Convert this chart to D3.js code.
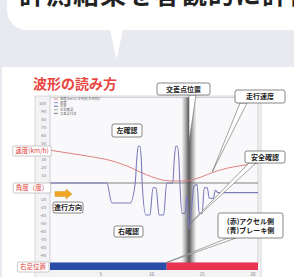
<!DOCTYPE html>
<html>
<head>
<meta charset="utf-8">
<script src="https://cdn.jsdelivr.net/npm/d3@7"></script>
<style>
  html, body { margin: 0; padding: 0; background: #e9eaef; }
  svg { display: block; font-family: "Noto Sans CJK JP", "Noto Sans", sans-serif; }
</style>
</head>
<body>
<script>
// speed (km/h) over time (s)
const speedTime  = [0, 2, 4, 6, 8, 9, 10, 11, 12, 13, 14, 15, 16, 17, 18, 19, 20, 20.5];
const speedValue = [41, 37, 33, 28, 19, 13, 8, 4, 2.5, 2.5, 4, 8, 13, 17, 20, 22, 24, 25];

// angle (deg) over time (s)
const angleTime  = [0, 5.6, 6.1, 7.9, 8.4, 8.55, 8.7, 8.85, 9.0, 9.08, 9.45, 9.85, 10.15, 10.45, 10.75, 11.2, 11.5,
                    12.1, 12.25, 12.4, 12.55, 12.7, 12.8, 13.0, 13.3, 13.5, 13.7, 13.9, 14.2, 14.5, 14.7, 15.0, 15.2,
                    15.5, 15.7, 16.1, 16.3, 16.55, 20.5];
const angleValue = [0, 0, -25, -25, 0, 30, 46, 46, 30, 0, -40, -40, -6, -6, -40, -40, 0,
                    0, 30, 46, 46, 30, 0, -38, -38, -15, -58, -38, -4, -2, -38, -38, -6,
                    -6, -19, -19, -9, -12, -12];

// right foot position: brake (blue) then accelerator (red)
const footStart = [0, 11.5];
const footEnd   = [11.5, 20.5];
const footSide  = ["brake", "accel"];

const intersectionTime = 13.7;

const yTicks = d3.range(100, -101, -10);
const xTicks = [5, 10, 15, 20];

const legendRows = ["速度(km/h)   左判別   左判別2", "角度", "右足", "左右確認", "交差点付近"];
const legendColors = ["#d96a6a", "#7474b8", "#2b4ea6", "#999", "#666"];

const W = 294, H = 277;
const svg = d3.select("body").append("svg").attr("width", W).attr("height", H);

// speech bubble at the top
svg.append("rect").attr("x", 7).attr("y", -40).attr("width", 320).attr("height", 70)
    .attr("rx", 20).attr("fill", "#fff");
svg.append("path").attr("d", "M110,29 L123,29 L116.5,60 Z").attr("fill", "#fff");
svg.append("text").attr("x", 19).attr("y", 4)
    .attr("font-size", 26).attr("font-weight", "bold").attr("fill", "#222")
    .attr("letter-spacing", 1)
    .text("計測結果を客観的に評価");

// white panel
svg.append("rect").attr("x", 2).attr("y", 67).attr("width", 300).attr("height", 220).attr("fill", "#fff");

svg.append("text").attr("x", 33).attr("y", 89)
    .attr("font-size", 14).attr("font-weight", "bold").attr("fill", "#e8453f")
    .text("波形の読み方");

const x = d3.scaleLinear().domain([0, 20.5]).range([50, 258]);
const y = d3.scaleLinear().domain([-100, 100]).range([263, 103]);

// chart frame
svg.append("rect").attr("x", 35).attr("y", 96).attr("width", 226).attr("height", 200)
    .attr("fill", "#f3f3f5").attr("stroke", "#d0d0d4").attr("stroke-width", 0.8);
svg.append("rect").attr("x", x(0)).attr("y", y(107)).attr("width", x(20.5) - x(0)).attr("height", y(-100) - y(107))
    .attr("fill", "#f9f9fb").attr("stroke", "#b8b8bc").attr("stroke-width", 0.6);

// y tick labels (the ones hidden behind the side labels are skipped)
const hidden = [40, 0, -10, -100];
svg.append("g").selectAll("text").data(yTicks.filter(d => !hidden.includes(d))).join("text")
    .attr("x", 46).attr("y", d => y(d) + 1.5)
    .attr("text-anchor", "end").attr("font-size", 4.2).attr("fill", "#777")
    .text(d => d);

svg.append("g").selectAll("text").data(xTicks).join("text")
    .attr("x", d => x(d)).attr("y", 276)
    .attr("text-anchor", "middle").attr("font-size", 4.5).attr("fill", "#777")
    .text(d => d);

// zero line
svg.append("line").attr("x1", x(0)).attr("x2", x(20.5)).attr("y1", y(0)).attr("y2", y(0))
    .attr("stroke", "#666").attr("stroke-width", 0.8);

// intersection band
const grad = svg.append("defs").append("linearGradient").attr("id", "band");
grad.append("stop").attr("offset", "0%").attr("stop-color", "#888").attr("stop-opacity", 0.1);
grad.append("stop").attr("offset", "45%").attr("stop-color", "#555").attr("stop-opacity", 0.9);
grad.append("stop").attr("offset", "55%").attr("stop-color", "#555").attr("stop-opacity", 0.9);
grad.append("stop").attr("offset", "100%").attr("stop-color", "#888").attr("stop-opacity", 0.1);
svg.append("rect").attr("x", x(intersectionTime) - 7).attr("y", y(107)).attr("width", 14)
    .attr("height", y(-100) - y(107)).attr("fill", "url(#band)");

const speed = speedTime.map((t, i) => [t, speedValue[i]]);
svg.append("path").datum(speed)
    .attr("d", d3.line().x(d => x(d[0])).y(d => y(d[1])).curve(d3.curveMonotoneX))
    .attr("fill", "none").attr("stroke", "#df7070").attr("stroke-width", 0.9);

const angle = angleTime.map((t, i) => [t, angleValue[i]]);
svg.append("path").datum(angle)
    .attr("d", d3.line().x(d => x(d[0])).y(d => y(d[1])).curve(d3.curveMonotoneX))
    .attr("fill", "none").attr("stroke", "#7c7cbc").attr("stroke-width", 1.1);

// foot position bar
svg.append("g").selectAll("rect").data(footStart).join("rect")
    .attr("x", d => x(d)).attr("y", 262.5)
    .attr("width", (d, i) => x(footEnd[i]) - x(d)).attr("height", 7.5)
    .attr("fill", (d, i) => footSide[i] === "brake" ? "#2a4ea8" : "#ea3350");

// legend
const lg = svg.append("g").selectAll("g").data(legendRows).join("g")
    .attr("transform", (d, i) => `translate(54,${99 + i * 3.6})`);
lg.append("line").attr("x1", 0).attr("x2", 4).attr("y1", 0).attr("y2", 0)
    .attr("stroke", (d, i) => legendColors[i]).attr("stroke-width", 0.8);
lg.append("text").attr("x", 6).attr("y", 1.2).attr("font-size", 3.3).attr("fill", "#666").text(d => d);

// red labels on the left
function sideLabel(txt, cx, cy) {
  const g = svg.append("g");
  const t = g.append("text").attr("x", cx).attr("y", cy + 2.4)
      .attr("text-anchor", "middle").attr("font-size", 6.5).attr("fill", "#e0413c").text(txt);
  const b = t.node().getBBox();
  g.insert("rect", "text").attr("x", b.x - 2.5).attr("y", cy - 5).attr("width", b.width + 5).attr("height", 10)
      .attr("fill", "#fff").attr("stroke", "#aaa").attr("stroke-width", 0.6).attr("rx", 1);
}
sideLabel("速度(km/h)", 32, 151);
sideLabel("角度（度）", 32, 188);
sideLabel("右足位置", 33, 267);

// heading arrow
svg.append("path").attr("d", "M55,191.5 L66,191.5 L66,189 L72,194 L66,199 L66,196.5 L55,196.5 Z")
    .attr("fill", "#f0a524").attr("stroke", "#d08a10").attr("stroke-width", 0.4);

// callouts
function wedge(pts) {
  svg.append("path").attr("d", "M" + pts.map(p => p.join(",")).join("L") + "Z")
      .attr("fill", "#fff").attr("stroke", "#666").attr("stroke-width", 0.6);
}
function box(lines, x0, y0, w, h) {
  svg.append("rect").attr("x", x0).attr("y", y0).attr("width", w).attr("height", h)
      .attr("rx", 2).attr("fill", "#fff").attr("stroke", "#555").attr("stroke-width", 0.7);
  lines.forEach((l, i) => {
    svg.append("text").attr("x", x0 + w / 2).attr("y", y0 + h / 2 + 2.5 + (i - (lines.length - 1) / 2) * 9)
        .attr("text-anchor", "middle").attr("font-size", 7).attr("font-weight", "bold").attr("fill", "#222")
        .text(l);
  });
}

wedge([[189, 95], [196, 95], [x(intersectionTime), 142]]);
wedge([[240, 103], [247, 103], [x(16), y(14)]]);
wedge([[249, 163], [256, 163], [x(13.7), y(-52)]]);
wedge([[228, 238], [236, 238], [x(11.5), 262.5]]);

box(["交差点位置"], 157, 83, 53, 12);
box(["走行速度"], 235, 90, 50, 13);
box(["安全確認"], 245, 151, 40, 12);
box(["(赤)アクセル側", "(青)ブレーキ側"], 218, 213, 65, 25);
box(["左確認"], 112, 124, 30, 13);
box(["右確認"], 114, 226, 29, 11);
box(["進行方向"], 53, 202, 30, 11);
</script>
</body>
</html>
